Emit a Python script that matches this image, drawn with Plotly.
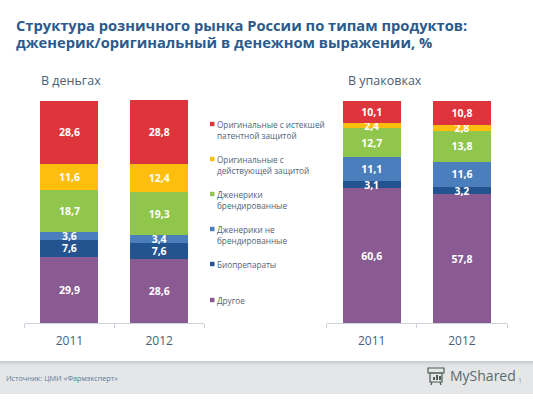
import plotly.graph_objects as go

years = ["2011", "2012"]
series_names = ["Другое", "Биопрепараты", "Дженерики не брендированные", "Дженерики брендированные",
                "Оригинальные с действующей защитой", "Оригинальные с истекшей патентной защитой"]
money_other = [29.9, 28.6]
money_bio = [7.6, 7.6]
money_unbranded = [3.6, 3.4]
money_branded = [18.7, 19.3]
money_active = [11.6, 12.4]
money_expired = [28.6, 28.8]
pack_other = [60.6, 57.8]
pack_bio = [3.1, 3.2]
pack_unbranded = [11.1, 11.6]
pack_branded = [12.7, 13.8]
pack_active = [2.4, 2.8]
pack_expired = [10.1, 10.8]
colors = ["#8A5A92", "#24548F", "#4A7EBD", "#91C64C", "#FDBE0E", "#DE343C"]
legend_labels = ["Другое", "Биопрепараты", "Дженерики не<br>брендированные", "Дженерики<br>брендированные",
                 "Оригинальные с<br>действующей защитой", "Оригинальные с истекшей<br>патентной защитой"]

W, H = 533, 400
FONT = "Open Sans"
fig = go.Figure()
money = [money_other, money_bio, money_unbranded, money_branded, money_active, money_expired]
packs = [pack_other, pack_bio, pack_unbranded, pack_branded, pack_active, pack_expired]
def fmt(v):
    return [f"{x:.1f}".replace(".", ",") for x in v]
for name, vals, c in zip(series_names, money, colors):
    fig.add_bar(x=years, y=vals, name=name, marker=dict(color=c, line_width=0), text=fmt(vals),
                xaxis="x", yaxis="y", showlegend=False)
for name, vals, c in zip(series_names, packs, colors):
    fig.add_bar(x=years, y=vals, name=name, marker=dict(color=c, line_width=0), text=fmt(vals),
                xaxis="x2", yaxis="y2", showlegend=False)
fig.update_traces(textposition="inside", insidetextanchor="middle", textangle=0, constraintext="none",
                  textfont=dict(family=FONT, size=10.5, color="white", weight="bold"), cliponaxis=False)

px = lambda v: v / W
py = lambda v: 1 - v / H
axis = dict(type="category", tickson="boundaries", ticks="outside", ticklen=4, tickcolor="#CBD2D9", tickwidth=1,
            showline=True, linecolor="#CBD2D9", linewidth=1, showgrid=False, range=[-0.5, 1.5],
            ticklabelstandoff=7, tickfont=dict(family=FONT, size=12, color="#4A6076"))
yaxis = dict(range=[0, 100.3], visible=False, domain=[py(323), py(100)], fixedrange=True)
shapes, ann = [], []
# footer band
grad = ["#C9CBCC", "#D0D2D3", "#D6D8D9", "#DBDDDE", "#DFE1E2", "#E2E4E5", "#E3E5E6"]
for i in range(33):
    col = grad[i] if i < len(grad) else "#E4E6E7"
    shapes.append(dict(type="rect", xref="paper", yref="paper", x0=0, x1=1, y0=py(361 + i + 1), y1=py(361 + i),
                       fillcolor=col, line_width=0, layer="below"))
# legend
for lab, c, yy in zip(legend_labels, colors, [300, 264, 229, 194, 159, 124]):
    shapes.append(dict(type="rect", xref="paper", yref="paper", x0=px(210), x1=px(214.5), y0=py(yy + 2.2), y1=py(yy - 2.2),
                       fillcolor=c, line_width=0))
    ann.append(dict(text=lab, x=px(215), y=py(yy - 7), xref="paper", yref="paper", xanchor="left", yanchor="top",
                    showarrow=False, align="left", font=dict(family=FONT, size=8.2, color="#4F6478")))
def note(text, x, y, size, color, bold=False, anchor="left", family=FONT):
    ann.append(dict(text=text, x=px(x), y=py(y), xref="paper", yref="paper", xanchor=anchor, yanchor="middle",
                    showarrow=False, align="left",
                    font=dict(family=family, size=size, color=color, weight="bold" if bold else "normal")))
note("Структура розничного рынка России по типам продуктов:", 13.5, 24.5, 14.7, "#2C5A8C", True)
note("дженерик/оригинальный в денежном выражении, %", 13.5, 42, 14.7, "#2C5A8C", True)
note("В деньгах", 39, 80.5, 12.5, "#4A6076")
note("В упаковках", 345.5, 80.5, 12.5, "#4A6076")
note("Источник: ЦМИ «Фармэксперт»", 3.5, 378, 7.3, "#5D7A99")
note("MyShared", 447.5, 375.5, 14, "#5A6A70")
note("1", 516, 380, 7, "#8A9AAA")
# logo icon
ic = "#4A5A55"
shapes += [
    dict(type="rect", xref="paper", yref="paper", x0=px(428), x1=px(444), y0=py(373), y1=py(368), line=dict(color=ic, width=1.2)),
    dict(type="rect", xref="paper", yref="paper", x0=px(430), x1=px(442), y0=py(382), y1=py(373), line=dict(color=ic, width=1.2)),
    dict(type="rect", xref="paper", yref="paper", x0=px(433), x1=px(435), y0=py(380), y1=py(377), fillcolor=ic, line_width=0),
    dict(type="rect", xref="paper", yref="paper", x0=px(436), x1=px(438), y0=py(380), y1=py(375), fillcolor=ic, line_width=0),
    dict(type="rect", xref="paper", yref="paper", x0=px(439), x1=px(441), y0=py(380), y1=py(376), fillcolor=ic, line_width=0),
    dict(type="line", xref="paper", yref="paper", x0=px(432), x1=px(431), y0=py(382), y1=py(385), line=dict(color=ic, width=1.2)),
    dict(type="line", xref="paper", yref="paper", x0=px(440), x1=px(441), y0=py(382), y1=py(385), line=dict(color=ic, width=1.2)),
]
fig.update_layout(
    width=W, height=H, margin=dict(l=0, r=0, t=0, b=0), autosize=False,
    barmode="stack", bargap=0.356, paper_bgcolor="#FFFFFF", plot_bgcolor="rgba(0,0,0,0)",
    xaxis=dict(axis, domain=[px(24.5), px(204)], anchor="y"),
    xaxis2=dict(axis, domain=[px(326.5), px(507)], anchor="y2"),
    yaxis=dict(yaxis, anchor="x"), yaxis2=dict(yaxis, anchor="x2"),
    shapes=shapes, annotations=ann,
)
fig.write_html("out.html", config=dict(displayModeBar=False),
               post_script="document.body.style.margin='0';document.documentElement.style.overflow='hidden';")
